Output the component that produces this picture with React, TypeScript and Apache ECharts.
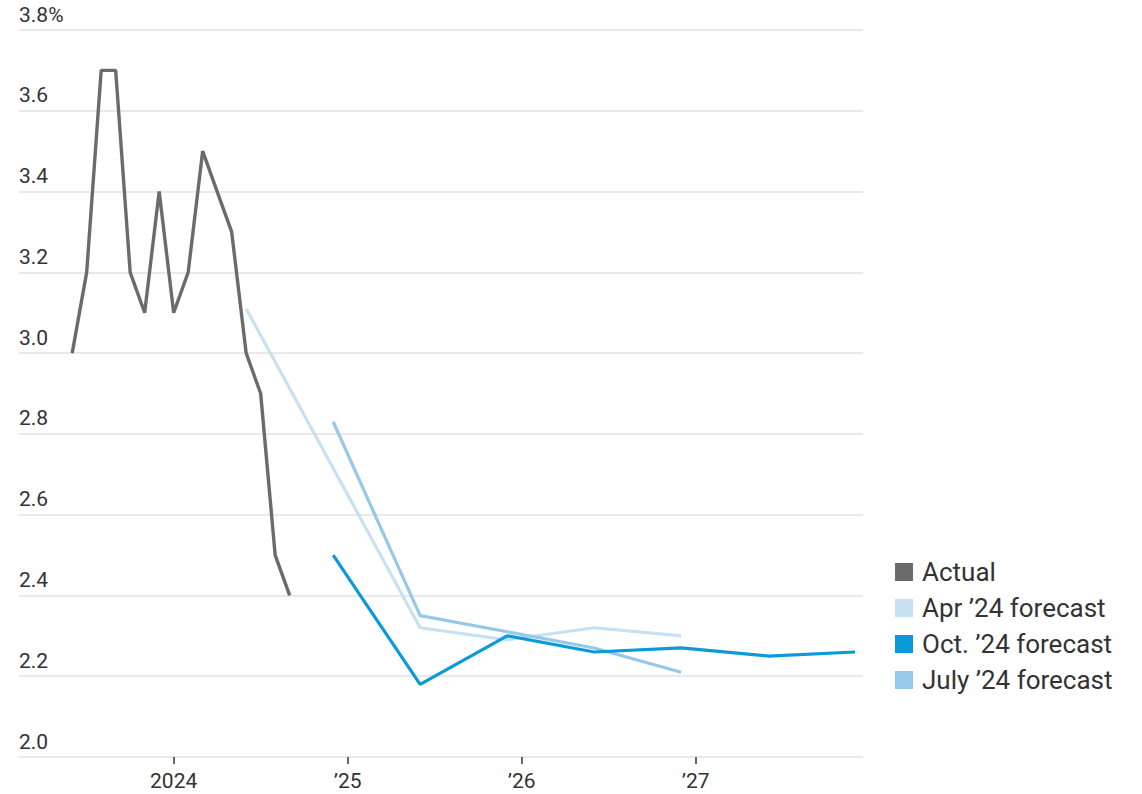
import React, { useEffect, useRef } from "react";
import * as echarts from "echarts";

// Monthly actual readings (%)
const actualDates = ["2023-06","2023-07","2023-08","2023-09","2023-10","2023-11","2023-12","2024-01","2024-02","2024-03","2024-04","2024-05","2024-06","2024-07","2024-08","2024-09"];
const actualValues = [3.0, 3.2, 3.7, 3.7, 3.2, 3.1, 3.4, 3.1, 3.2, 3.5, 3.4, 3.3, 3.0, 2.9, 2.5, 2.4];

const aprDates = ["2024-06","2025-06","2025-12","2026-06","2026-12"];
const aprValues = [3.11, 2.32, 2.29, 2.32, 2.30];

const octDates = ["2024-12","2025-06","2025-12","2026-06","2026-12","2027-06","2027-12"];
const octValues = [2.50, 2.18, 2.30, 2.26, 2.27, 2.25, 2.26];

const julyDates = ["2024-12","2025-06","2025-12","2026-06","2026-12"];
const julyValues = [2.83, 2.35, 2.31, 2.27, 2.21];

const yearTicks = [2024, 2025, 2026, 2027];
const yearLabels = ["2024", "\u201925", "\u201926", "\u201927"];

const toYear = (s: string) => {
  const [y, m] = s.split("-").map(Number);
  return y + (m - 1) / 12;
};
const pairs = (d: string[], v: number[]) => d.map((s, i) => [toYear(s), v[i]]);

const FONT = "Roboto, 'Noto Sans', sans-serif";

export default function App() {
  const ref = useRef<HTMLDivElement>(null);
  useEffect(() => {
    if (!ref.current) return;
    const chart = echarts.init(ref.current, null, { renderer: "svg" });
    chart.setOption({
      animation: false,
      backgroundColor: "#ffffff",
      textStyle: { fontFamily: FONT },
      grid: { left: 19, right: 279, top: 30, bottom: 37, containLabel: false },
      legend: {
        orient: "vertical",
        left: 890,
        top: 554,
        icon: "rect",
        itemWidth: 18,
        itemHeight: 18,
        itemGap: 10,
        textStyle: { fontSize: 26, color: "#333333", fontFamily: FONT, padding: [0, 0, 0, 4] },
        data: ["Actual", "Apr \u201924 forecast", "Oct. \u201924 forecast", "July \u201924 forecast"],
      },
      xAxis: {
        type: "value",
        min: 2023.111,
        max: 2027.962,
        axisLine: { show: false },
        splitLine: { show: false },
        axisTick: { show: true, customValues: yearTicks, length: 7, lineStyle: { color: "#333333", width: 1.5 } },
        axisLabel: {
          customValues: yearTicks,
          formatter: (v: number) => yearLabels[yearTicks.indexOf(Math.round(v))] ?? "",
          fontSize: 21,
          color: "#333333",
          margin: 13,
          fontFamily: FONT,
        },
      },
      yAxis: {
        type: "value",
        min: 2.0,
        max: 3.8,
        interval: 0.2,
        axisLine: { show: false },
        axisTick: { show: false },
        splitLine: { lineStyle: { color: "#e2e2e2", width: 1.5 } },
        axisLabel: {
          inside: true,
          margin: 0,
          verticalAlign: "bottom",
          padding: [0, 0, 5, 0],
          fontSize: 21,
          color: "#333333",
          fontFamily: FONT,
          formatter: (v: number) => (Math.abs(v - 3.8) < 1e-6 ? "3.8%" : v.toFixed(1)),
        },
      },
      series: [
        {
          name: "Actual",
          type: "line",
          data: pairs(actualDates, actualValues),
          showSymbol: false,
          itemStyle: { color: "#6b6b6b" },
          lineStyle: { color: "#6b6b6b", width: 3.4 },
          z: 5,
        },
        {
          name: "Apr \u201924 forecast",
          type: "line",
          data: pairs(aprDates, aprValues),
          showSymbol: false,
          itemStyle: { color: "#c7e1f2" },
          lineStyle: { color: "#c7e1f2", width: 3.2 },
          z: 2,
        },
        {
          name: "Oct. \u201924 forecast",
          type: "line",
          data: pairs(octDates, octValues),
          showSymbol: false,
          itemStyle: { color: "#0a9ad8" },
          lineStyle: { color: "#0a9ad8", width: 3.2 },
          z: 4,
        },
        {
          name: "July \u201924 forecast",
          type: "line",
          data: pairs(julyDates, julyValues),
          showSymbol: false,
          itemStyle: { color: "#96c8e9" },
          lineStyle: { color: "#96c8e9", width: 3.2 },
          z: 3,
        },
      ],
    });
    return () => chart.dispose();
  }, []);
  return (
    <div
      ref={ref}
      style={{ position: "fixed", left: 0, top: 0, width: 1142, height: 794 }}
    />
  );
}
